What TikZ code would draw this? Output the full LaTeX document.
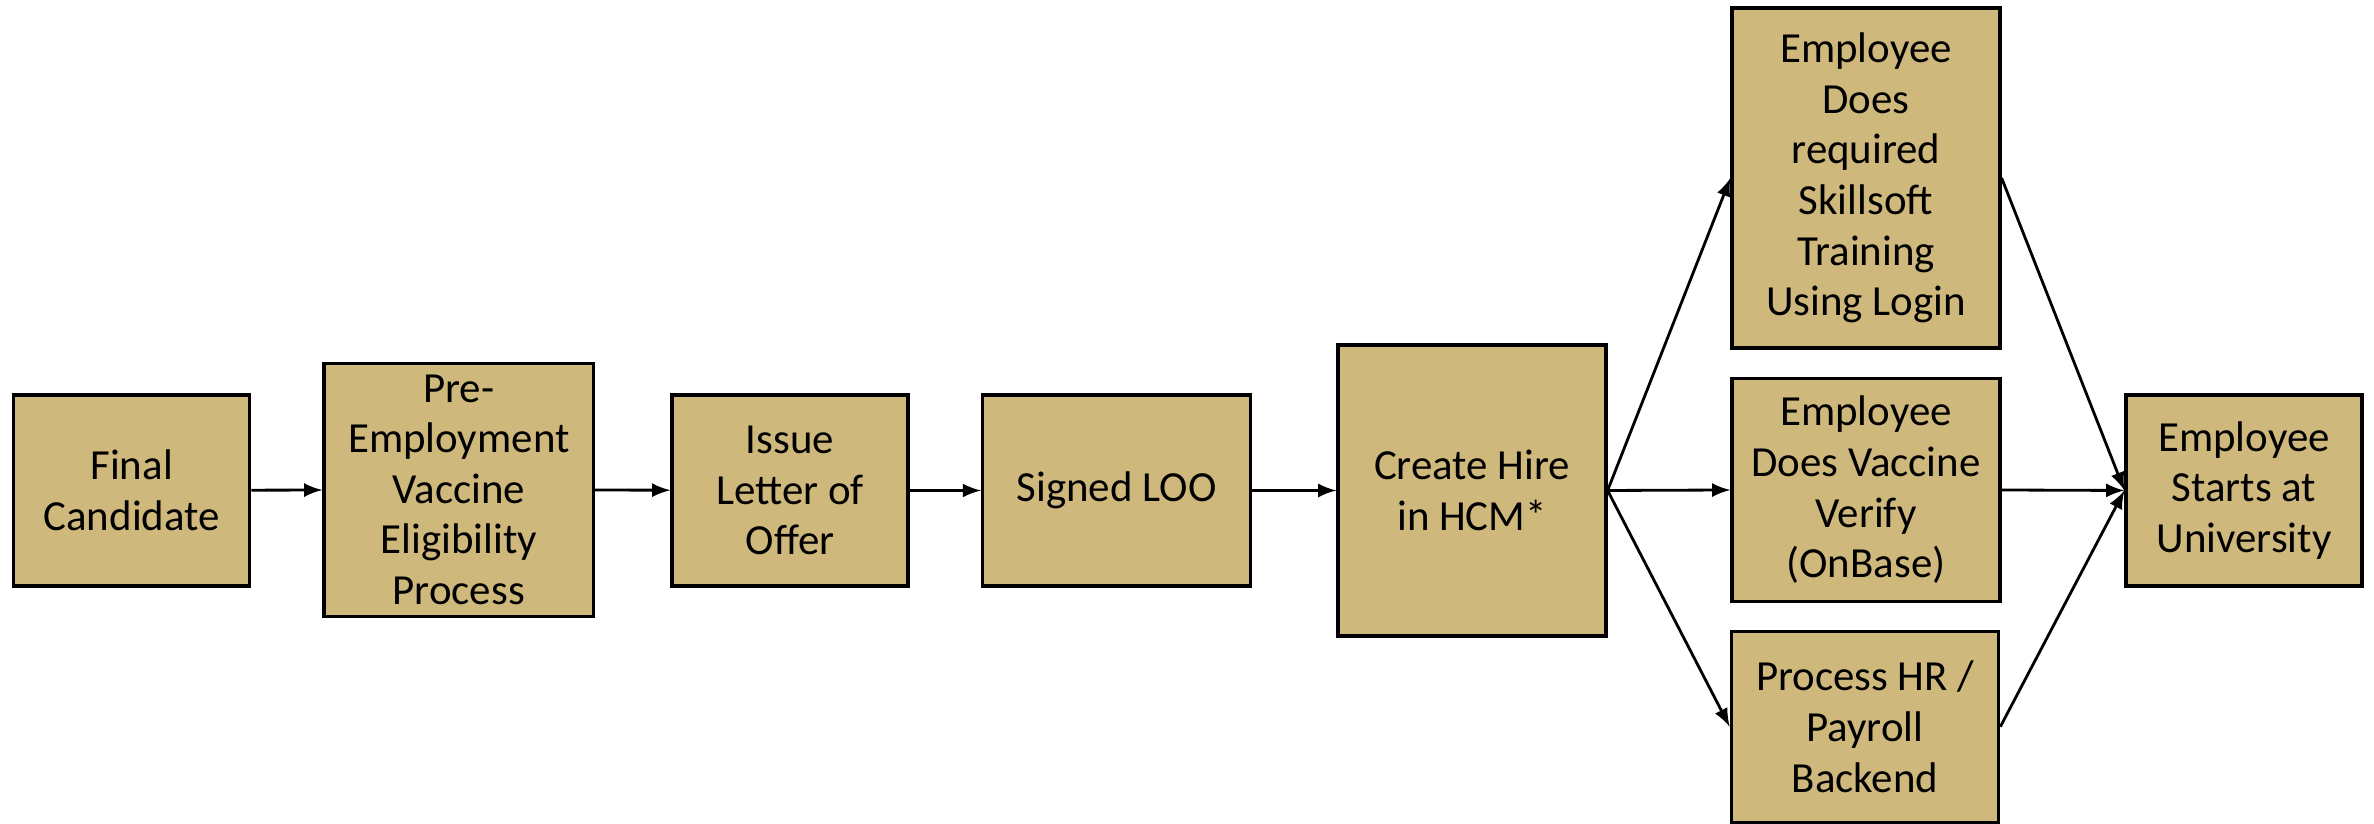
\documentclass[tikz,border=0pt]{standalone}
\usepackage{fontspec}
\setmainfont{Carlito}
\usepackage{tikz}
\usetikzlibrary{arrows,positioning}
\usepackage{xcolor}
\definecolor{hrgold}{RGB}{207,184,124}
\tikzstyle{stagebox} = [rectangle, minimum width=2.68cm, minimum height=1.91cm, inner sep=0pt, text centered, align=center, draw=black, fill=hrgold, line width=0.9pt, font=\fontsize{12.2}{14.4}\selectfont]
\tikzstyle{arrow} = [line width=0.8pt,->,>=latex,color=black]

\begin{document}
\begin{tikzpicture}
\useasboundingbox (0,0) rectangle (23.74,8.24);
\node[stagebox, minimum width=2.36cm] (cand) at (1.317,3.335) {Final\\Candidate};
\node[stagebox, minimum width=2.695cm, minimum height=2.53cm] (vacelig) at (4.588,3.343) {Pre-\\Employment\\Vaccine\\Eligibility\\Process};
\node[stagebox, minimum width=2.36cm] (offer) at (7.90,3.335) {Issue\\Letter of\\Offer};
\node[stagebox] (signed) at (11.166,3.335) {Signed LOO};
\node[stagebox, minimum height=2.91cm] (hcm) at (14.72,3.335) {Create Hire\\in HCM*};
\node[stagebox, minimum height=3.40cm] (skill) at (18.66,6.46) {Employee\\Does\\required\\Skillsoft\\Training\\Using Login};
\node[stagebox, minimum height=2.225cm] (verify) at (18.66,3.34) {Employee\\Does Vaccine\\Verify\\(OnBase)};
\node[stagebox, minimum width=2.675cm] (payroll) at (18.65,0.973) {Process HR /\\Payroll\\Backend};
\node[stagebox, minimum width=2.36cm] (start) at (22.44,3.335) {Employee\\Starts at\\University};

\draw[arrow] (cand) -- (vacelig);
\draw[arrow] (vacelig) -- (offer);
\draw[arrow] (offer) -- (signed);
\draw[arrow] (signed) -- (hcm);
\draw[arrow] (hcm.east) -- (skill.west);
\draw[arrow] (hcm.east) -- (verify.west);
\draw[arrow] (hcm.east) -- (payroll.west);
\draw[arrow] (skill.east) -- (start.west);
\draw[arrow] (verify.east) -- (start.west);
\draw[arrow] (payroll.east) -- (start.west);
\end{tikzpicture}
\end{document}
